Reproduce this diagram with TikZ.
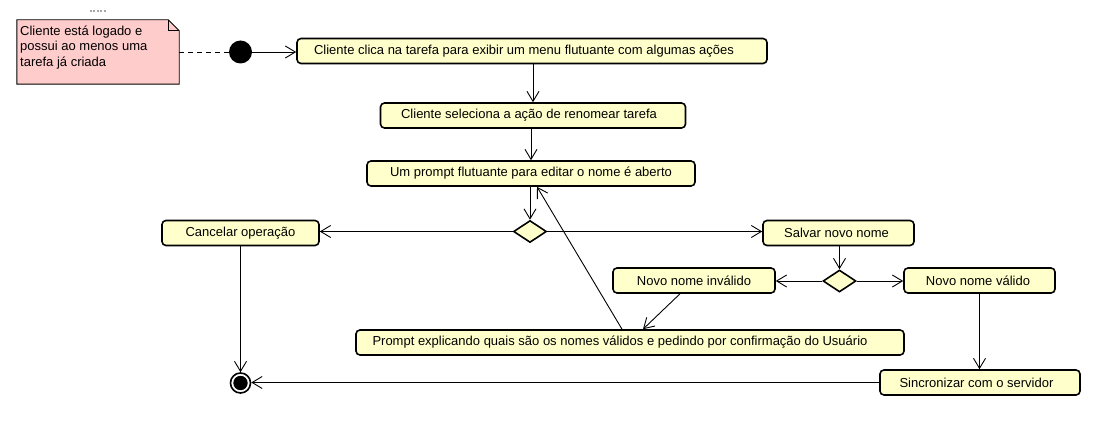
\documentclass[tikz,border=0pt]{standalone}
\usepackage{fontspec}
\setmainfont{Liberation Sans}
\usetikzlibrary{shapes.geometric,arrows.meta,calc}
\definecolor{actfill}{RGB}{255,255,204}
\definecolor{notefill}{RGB}{255,204,204}
\begin{document}
\begin{tikzpicture}[x=1pt,y=-1pt,
  font=\fontsize{13}{15.5}\selectfont,
  act/.style={draw, line width=1.6pt, rounded corners=4pt, fill=actfill,
    inner sep=0pt, minimum height=25pt, align=center},
  dec/.style={diamond, draw, line width=1.6pt, fill=actfill, inner sep=0pt,
    minimum width=33pt, minimum height=22pt},
  flow/.style={line width=0.9pt, -{Straight Barb[length=10pt,width=12pt,line width=0.9pt]}},
  notebox/.style={minimum width=162pt, minimum height=64pt, inner sep=0pt},
]
\useasboundingbox (0,0) rectangle (1101,428);

% note
\node[notebox] (note) at (98,52) {};
\fill[notefill] (note.north west) -- ($(note.north east)+(-11,0)$) -- ($(note.north east)+(0,11)$)
  -- (note.south east) -- (note.south west) -- cycle;
\draw[line width=0.9pt] (note.north west) -- ($(note.north east)+(-11,0)$) -- ($(note.north east)+(0,11)$)
  -- (note.south east) -- (note.south west) -- cycle;
\draw[line width=0.7pt] ($(note.north east)+(-11,0)$) -- ($(note.north east)+(-11,11)$) -- ($(note.north east)+(0,11)$);
\node[anchor=north west, align=left, inner sep=0pt] (notetext) at (20,25.5)
  {Cliente está logado e\\possui ao menos uma\\tarefa já criada};
\draw[gray!70, line width=2pt, dash pattern=on 2pt off 1.4pt] (90,11.5) -- (106,11.5);

% initial and final
\node[circle, fill=black, minimum size=23pt, inner sep=0pt] (init) at (240.5,52) {};
\node[circle, draw=black, line width=1.6pt, fill=white, minimum size=20pt, inner sep=0pt] (fin) at (240.5,383) {};
\fill[black] (fin.center) circle (7.2pt);

% actions
\node[act, minimum width=470pt] (a1) at (532,51) {\mbox{Cliente clica na tarefa para exibir um menu flutuante com algumas ações\hspace{16pt}}};
\node[act, minimum width=305pt] (a2) at (533,115.5) {\mbox{Cliente seleciona a ação de renomear tarefa\hspace{8pt}}};
\node[act, minimum width=328pt] (a3) at (531,173.5) {Um prompt flutuante para editar o nome é aberto};
\node[act, minimum width=157pt] (cancel) at (240.5,233) {Cancelar operação};
\node[act, minimum width=151pt] (salvar) at (838.5,233) {\mbox{Salvar novo nome\hspace{4pt}}};
\node[act, minimum width=162pt] (inval) at (694,280.5) {Novo nome inválido};
\node[act, minimum width=151pt] (valid) at (979.5,280.5) {\mbox{Novo nome válido\hspace{3pt}}};
\node[act, minimum width=548pt] (prompt) at (630,342.5) {\mbox{Prompt explicando quais são os nomes válidos e pedindo por confirmação do Usuário\hspace{20pt}}};
\node[act, minimum width=200pt] (sinc) at (980,382.5) {\mbox{Sincronizar com o servidor\hspace{7pt}}};

% decisions
\node[dec] (d1) at (530,231.5) {};
\node[dec] (d2) at (839.5,281) {};

% connectors
\draw[line width=0.9pt, dash pattern=on 5pt off 4pt] (note.east) -- (init.west);
\draw[flow] (init) -- (init -| a1.west);
\draw[flow] (a2.north |- a1.south) -- (a2.north);
\draw[flow] (a3.north |- a2.south) -- (a3.north);
\draw[flow] (d1.north |- a3.south) -- (d1.north);
\draw[flow] (d1.west) -- (d1.west -| cancel.east);
\draw[flow] (d1.east) -- (d1.east -| salvar.west);
\draw[flow] (d2.north |- salvar.south) -- (d2.north);
\draw[flow] (d2.west) -- (d2.west -| inval.east);
\draw[flow] (d2.east) -- (d2.east -| valid.west);
\draw[flow] ($(inval.south)+(-14,0)$) -- ($(prompt.north)+(13,0)$);
\draw[flow] ($(prompt.north)+(-8,0)$) -- ($(a3.south)+(6,0)$);
\draw[flow] (valid.south) -- (valid.south |- sinc.north);
\draw[flow] (cancel.south) -- (fin.north);
\draw[flow] (sinc.west) -- (sinc.west -| fin.east);
\end{tikzpicture}
\end{document}
